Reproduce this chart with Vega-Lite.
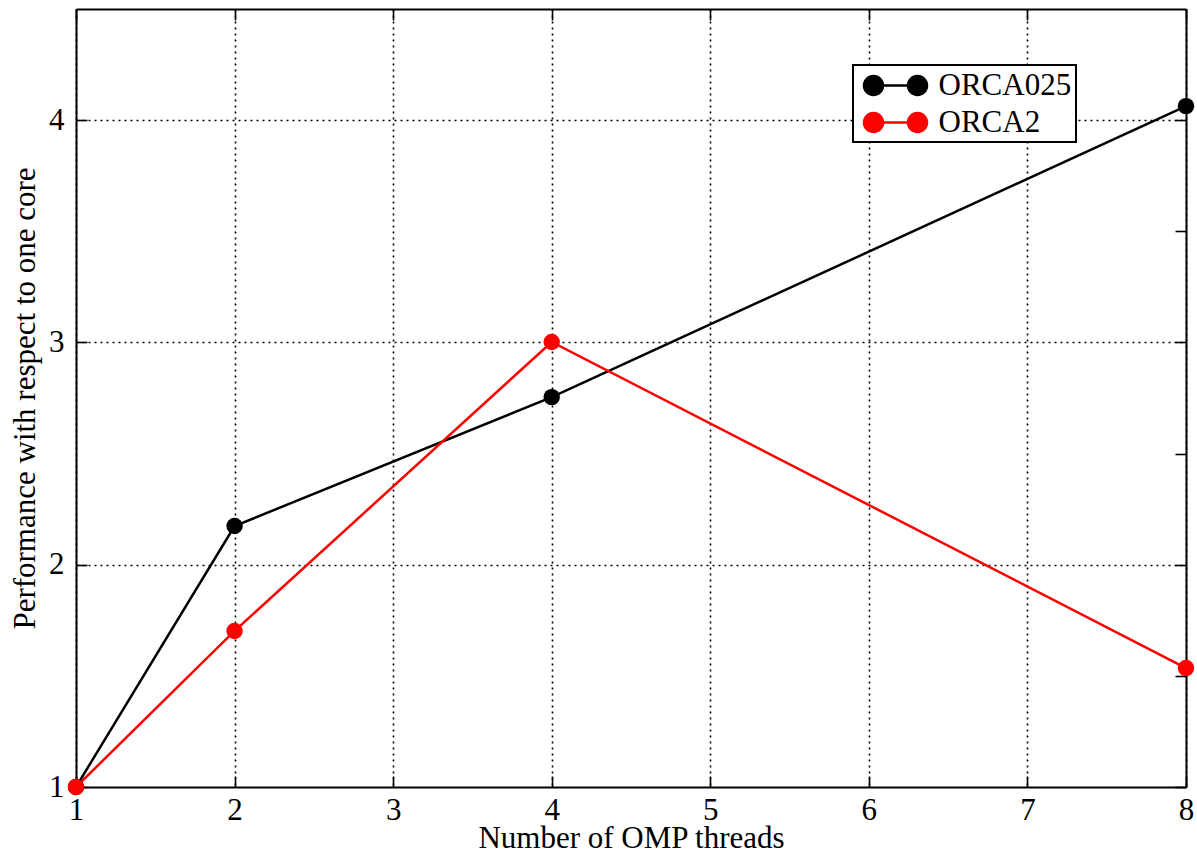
{
  "$schema": "https://vega.github.io/schema/vega-lite/v6.json",
  "width": 1110,
  "height": 778,
  "autosize": {"type": "none"},
  "padding": {"left": 76, "top": 9, "right": 11, "bottom": 67},
  "background": "white",
  "config": {
    "font": "Liberation Serif",
    "view": {"stroke": null},
    "axis": {
      "domainColor": "black",
      "domainWidth": 2,
      "tickColor": "black",
      "tickWidth": 1.6,
      "labelFont": "Liberation Serif",
      "labelFontSize": 31,
      "labelColor": "black",
      "labelFlush": false,
      "labelOverlap": false,
      "titleFont": "Liberation Serif",
      "titleFontSize": 31,
      "titleFontWeight": "normal",
      "titleColor": "black",
      "gridColor": "black",
      "gridWidth": 1.6
    }
  },
  "data": {
    "values": [
      {"threads": 1, "perf": 1.0, "config": "ORCA025"},
      {"threads": 2, "perf": 2.174, "config": "ORCA025"},
      {"threads": 4, "perf": 2.754, "config": "ORCA025"},
      {"threads": 8, "perf": 4.063, "config": "ORCA025"},
      {"threads": 1, "perf": 1.0, "config": "ORCA2"},
      {"threads": 2, "perf": 1.702, "config": "ORCA2"},
      {"threads": 4, "perf": 3.002, "config": "ORCA2"},
      {"threads": 8, "perf": 1.535, "config": "ORCA2"}
    ]
  },
  "layer": [
    {
      "mark": {"type": "line", "strokeWidth": 2.5},
      "encoding": {
        "x": {
          "field": "threads", "type": "quantitative",
          "scale": {"domain": [1, 8], "nice": false, "zero": false},
          "axis": {
            "orient": "bottom",
            "values": [1, 2, 3, 4, 5, 6, 7, 8],
            "title": "Number of OMP threads",
            "grid": true,
            "gridDash": [2, 4],
            "tickSize": -11,
            "labelPadding": 19,
            "titlePadding": -2,
            "format": "d"
          }
        },
        "y": {
          "field": "perf", "type": "quantitative",
          "scale": {"domain": [1, 4.5], "nice": false, "zero": false},
          "axis": {
            "orient": "left",
            "values": [1, 1.5, 2, 2.5, 3, 3.5, 4],
            "labelExpr": "datum.value % 1 === 0 ? datum.label : ''",
            "gridOpacity": {"condition": {"test": "datum.value % 1 === 0 && datum.value > 1", "value": 1}, "value": 0},
            "title": "Performance with respect to one core",
            "grid": true,
            "gridDash": [2, 4],
            "tickSize": -11,
            "labelPadding": 23,
            "titlePadding": 7,
            "format": "d"
          }
        },
        "color": {
          "field": "config", "type": "nominal",
          "scale": {"domain": ["ORCA025", "ORCA2"], "range": ["#000000", "#ff0000"]},
          "legend": {
            "orient": "none",
            "legendX": 777,
            "legendY": 56,
            "title": null,
            "strokeColor": "black",
            "fillColor": "white",
            "padding": 4,
            "labelFont": "Liberation Serif",
            "labelFontSize": 31,
            "labelColor": "black",
            "labelOffset": 26.5,
            "symbolOffset": 22,
            "symbolType": "M-1.467,0L1.467,0M-0.834,0A0.633,0.633 0 1 1 -2.1,0A0.633,0.633 0 1 1 -0.834,0ZM2.1,0A0.633,0.633 0 1 1 0.834,0A0.633,0.633 0 1 1 2.1,0Z",
            "symbolSize": 900,
            "symbolStrokeWidth": 2.5,
            "rowPadding": 5,
            "encode": {
              "legend": {
                "update": {"strokeWidth": {"value": 2}}
              },
              "symbols": {
                "update": {
                  "fill": {"scale": "color", "field": "value"},
                  "stroke": {"scale": "color", "field": "value"},
                  "fillOpacity": {"value": 1}
                }
              }
            }
          }
        }
      }
    },
    {
      "mark": {"type": "point", "filled": true, "size": 270, "opacity": 1},
      "encoding": {
        "x": {
          "field": "threads", "type": "quantitative",
          "axis": {
            "orient": "top",
            "values": [1, 2, 3, 4, 5, 6, 7, 8],
            "title": null,
            "labels": false,
            "grid": false,
            "tickSize": -11
          }
        },
        "y": {
          "field": "perf", "type": "quantitative",
          "axis": {
            "orient": "right",
            "values": [1, 1.5, 2, 2.5, 3, 3.5, 4],
            "title": null,
            "labels": false,
            "grid": false,
            "tickSize": -11
          }
        },
        "color": {"field": "config", "type": "nominal"}
      }
    }
  ],
  "resolve": {"axis": {"x": "independent", "y": "independent"}}
}
